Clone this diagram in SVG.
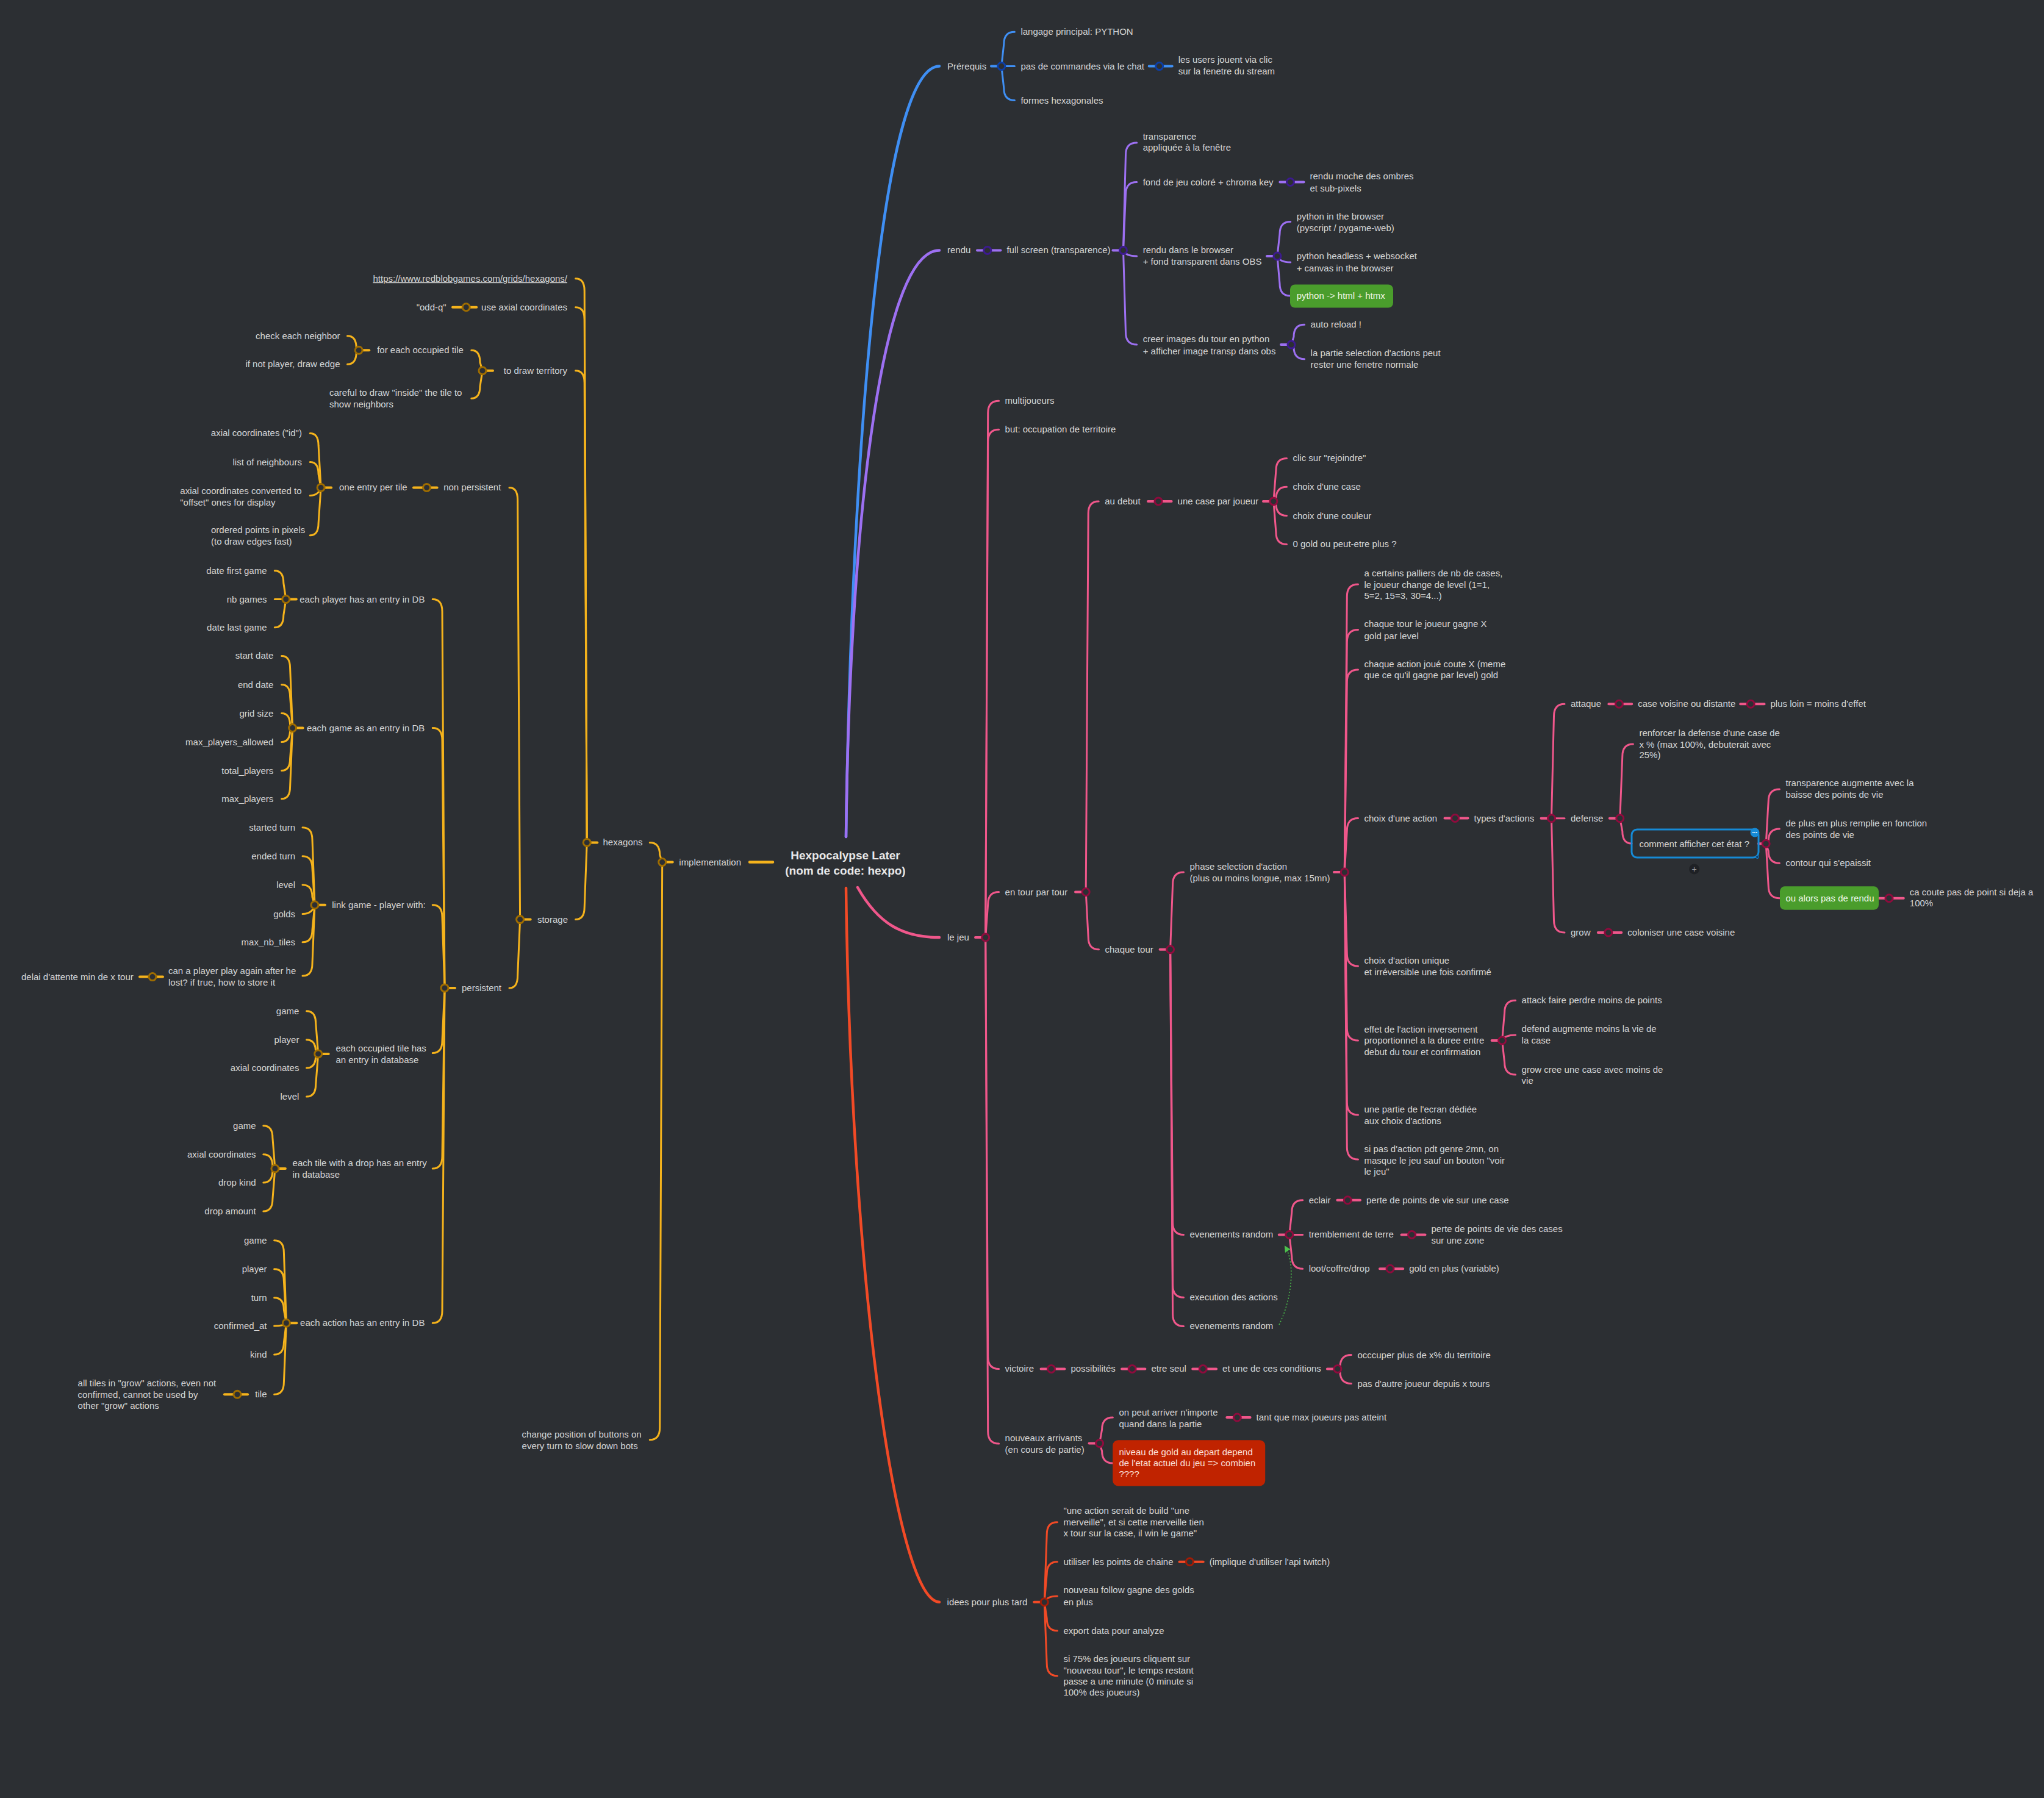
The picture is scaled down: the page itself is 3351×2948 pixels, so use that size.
<svg xmlns="http://www.w3.org/2000/svg" width="3351" height="2948" viewBox="0 0 3351 2948">
<defs>
<style>
.t{font-family:"Liberation Sans",Arial,sans-serif;font-size:15px;fill:#d6d6d6}
.e{text-anchor:end}
.ttl{font-family:"Liberation Sans",Arial,sans-serif;font-size:19px;font-weight:bold;fill:#e8e8e8;text-anchor:middle}
.c{fill:none;stroke-linecap:round;stroke-width:3}
.w1{stroke-width:4.5}
.st{stroke-width:4}
.b{stroke:#3f8ff4}.p{stroke:#9d70f2}.k{stroke:#f0578b}.y{stroke:#f5b31c}.r{stroke:#f24a26}
.d{fill:#2c2f33;stroke-width:3}
.db{stroke:#0d3ea3}.dp{stroke:#3c1a8f}.dk{stroke:#8e0b3d}.dy{stroke:#9e6c00}.dr{stroke:#a11c06}
.gbox{fill:#4a9d2c}.gt{fill:#eef7e8}
.rbox{fill:#c02300}.rt{fill:#fbe0da}
</style>
<marker id="ga" viewBox="0 0 10 10" refX="8" refY="5" markerWidth="7" markerHeight="7" orient="auto-start-reverse">
<path d="M0,0 L10,5 L0,10 z" fill="#4cc24c"/>
</marker>
</defs>
<rect x="0" y="0" width="3351" height="2948" fill="#2c2f33"/>

<g id="connectors">
<!-- blue -->
<path class="c b w1" d="M1387,1372 C1395,800 1440,108.6 1540,108.6"/>
<path class="c b st" d="M1625,108.6 L1641.8,108.6"/>
<path class="c b" d="M1641.8,108.6 L1645.8,72.2 Q1645.8,52.2 1663.4,52.2"/>
<path class="c b" d="M1641.8,108.6 L1663.4,108.6"/>
<path class="c b" d="M1641.8,108.6 L1645.8,144.6 Q1645.8,164.6 1663.4,164.6"/>
<path class="c b st" d="M1883.7,108.6 L1921.7,108.6"/>
<circle class="d db" cx="1641.8" cy="108.6" r="6"/>
<circle class="d db" cx="1900.7" cy="108.6" r="6"/>

<!-- purple -->
<path class="c p w1" d="M1387,1372 C1392,900 1440,410.4 1540,410.4"/>
<path class="c p st" d="M1602,410.4 L1640.4,410.4"/>
<path class="c p st" d="M1824.5,410.4 L1841.5,410.4"/>
<path class="c p" d="M1841.5,410.4 L1845.5,254 Q1845.5,234 1863.7,234"/>
<path class="c p" d="M1841.5,410.4 L1845.5,318.5 Q1845.5,298.5 1863.7,298.5"/>
<path class="c p" d="M1841.5,410.4 Q1845.5,420 1863.7,420"/>
<path class="c p" d="M1841.5,410.4 L1845.5,545 Q1845.5,565 1863.7,565"/>
<path class="c p st" d="M2098.4,298.5 L2137.5,298.5"/>
<path class="c p st" d="M2077,420 L2094,420"/>
<path class="c p" d="M2094,420 L2098,383.6 Q2098,363.6 2115.7,363.6"/>
<path class="c p" d="M2094,420 Q2098,430 2115.7,430"/>
<path class="c p" d="M2094,420 L2098,465 Q2098,485 2115,485"/>
<path class="c p st" d="M2100,565.1 L2117,565.1"/>
<path class="c p" d="M2117,565.1 L2121,552.3 Q2121,532.3 2138.6,532.3"/>
<path class="c p" d="M2117,565.1 L2121,568.7 Q2121,588.7 2138.6,588.7"/>
<circle class="d dp" cx="1618.8" cy="410.4" r="6"/>
<circle class="d dp" cx="1841.5" cy="410.4" r="6"/>
<circle class="d dp" cx="2115.4" cy="298.5" r="6"/>
<circle class="d dp" cx="2094" cy="420" r="6"/>
<circle class="d dp" cx="2117" cy="565.1" r="6"/>

<!-- pink -->
<path class="c k w1" d="M1406,1455 C1440,1515 1480,1537 1540,1537"/>
<path class="c k st" d="M1599,1537 L1615.7,1537"/>
<path class="c k" d="M1615.7,1537 L1619.7,677.3 Q1619.7,657.3 1637.6,657.3"/>
<path class="c k" d="M1615.7,1537 L1619.7,724.2 Q1619.7,704.2 1637.6,704.2"/>
<path class="c k" d="M1615.7,1537 L1619.7,1482.5 Q1619.7,1462.5 1637.6,1462.5"/>
<path class="c k" d="M1615.7,1537 L1619.7,2224.4 Q1619.7,2244.4 1637.6,2244.4"/>
<path class="c k" d="M1615.7,1537 L1619.7,2347 Q1619.7,2367 1637.6,2367"/>
<path class="c k st" d="M1763,1462.5 L1780.2,1462.5"/>
<path class="c k" d="M1780.2,1462.5 L1784.2,841.9 Q1784.2,821.9 1801.2,821.9"/>
<path class="c k" d="M1780.2,1462.5 L1784.2,1536.7 Q1784.2,1556.7 1801.5,1556.7"/>
<path class="c k st" d="M1882,821.9 L1920.6,821.9"/>
<path class="c k st" d="M2071,821.9 L2087.9,821.9"/>
<path class="c k" d="M2087.9,821.9 L2091.9,771.4 Q2091.9,751.4 2109.5,751.4"/>
<path class="c k" d="M2087.9,821.9 L2091.9,818.3 Q2091.9,798.3 2109.5,798.3"/>
<path class="c k" d="M2087.9,821.9 L2091.9,825.5 Q2091.9,845.5 2109.5,845.5"/>
<path class="c k" d="M2087.9,821.9 L2091.9,872.4 Q2091.9,892.4 2109.5,892.4"/>
<path class="c k st" d="M1901.6,1556.7 L1918.6,1556.7"/>
<path class="c k" d="M1918.6,1556.7 L1922.6,1450 Q1922.6,1430 1940.5,1430"/>
<path class="c k" d="M1918.6,1556.7 L1922.6,2004.4 Q1922.6,2024.4 1940.5,2024.4"/>
<path class="c k" d="M1918.6,1556.7 L1922.6,2107.3 Q1922.6,2127.3 1940.5,2127.3"/>
<path class="c k" d="M1918.6,1556.7 L1922.6,2154.4 Q1922.6,2174.4 1940.5,2174.4"/>
<path class="c k st" d="M2187,1430 L2204.3,1430"/>
<path class="c k" d="M2204.3,1430 L2208.3,977.9 Q2208.3,957.9 2226.5,957.9"/>
<path class="c k" d="M2204.3,1430 L2208.3,1052.5 Q2208.3,1032.5 2226.5,1032.5"/>
<path class="c k" d="M2204.3,1430 L2208.3,1118 Q2208.3,1098 2226.5,1098"/>
<path class="c k" d="M2204.3,1430 L2208.3,1361.5 Q2208.3,1341.5 2226.5,1341.5"/>
<path class="c k" d="M2204.3,1430 L2208.3,1564 Q2208.3,1584 2226.5,1584"/>
<path class="c k" d="M2204.3,1430 L2208.3,1686 Q2208.3,1706 2226.5,1706"/>
<path class="c k" d="M2204.3,1430 L2208.3,1808 Q2208.3,1828 2226.5,1828"/>
<path class="c k" d="M2204.3,1430 L2208.3,1881 Q2208.3,1901 2226.5,1901"/>
<path class="c k st" d="M2368.5,1341.5 L2406.5,1341.5"/>
<path class="c k st" d="M2526.5,1341.7 L2543.5,1341.7"/>
<path class="c k" d="M2543.5,1341.7 L2547.5,1174.3 Q2547.5,1154.3 2565,1154.3"/>
<path class="c k" d="M2543.5,1341.7 L2565,1341.7"/>
<path class="c k" d="M2543.5,1341.7 L2547.5,1509 Q2547.5,1529 2565,1529"/>
<path class="c k st" d="M2637.4,1154.3 L2675.2,1154.3"/>
<path class="c k st" d="M2853.2,1154.3 L2892.5,1154.3"/>
<path class="c k st" d="M2638.8,1341.7 L2655.8,1341.7"/>
<path class="c k" d="M2655.8,1341.7 L2659.8,1240 Q2659.8,1220 2677.4,1220"/>
<path class="c k" d="M2655.8,1341.7 L2659.8,1363 Q2659.8,1383 2675,1383"/>
<path class="c k st" d="M2883,1383.3 L2895.2,1383.3"/>
<path class="c k" d="M2895.2,1383.3 L2899.2,1314 Q2899.2,1294 2917.4,1294"/>
<path class="c k" d="M2895.2,1383.3 L2899.2,1379 Q2899.2,1359 2917.4,1359"/>
<path class="c k" d="M2895.2,1383.3 L2899.2,1395.3 Q2899.2,1415.3 2917.4,1415.3"/>
<path class="c k" d="M2895.2,1383.3 L2899.2,1452.7 Q2899.2,1472.7 2918,1472.7"/>
<path class="c k st" d="M3080,1472.7 L3120.8,1472.7"/>
<path class="c k st" d="M2619.8,1529 L2658.3,1529"/>
<path class="c k st" d="M2445.6,1706 L2462.6,1706"/>
<path class="c k" d="M2462.6,1706 L2466.6,1660.3 Q2466.6,1640.3 2484.6,1640.3"/>
<path class="c k" d="M2462.6,1706 Q2466.6,1697 2484.6,1697"/>
<path class="c k" d="M2462.6,1706 L2466.6,1742 Q2466.6,1762 2484.6,1762"/>
<path class="c k st" d="M2096.8,2024.4 L2113.8,2024.4"/>
<path class="c k" d="M2113.8,2024.4 L2117.8,1987.7 Q2117.8,1967.7 2135.7,1967.7"/>
<path class="c k" d="M2113.8,2024.4 L2135.7,2024.4"/>
<path class="c k" d="M2113.8,2024.4 L2117.8,2060.3 Q2117.8,2080.3 2135.7,2080.3"/>
<path class="c k st" d="M2192.4,1967.7 L2230,1967.7"/>
<path class="c k st" d="M2297.6,2024.4 L2336.5,2024.4"/>
<path class="c k st" d="M2262,2080.3 L2300.2,2080.3"/>
<path class="c k st" d="M1706.5,2244.4 L1745.4,2244.4"/>
<path class="c k st" d="M1839.1,2244.4 L1877.4,2244.4"/>
<path class="c k st" d="M1955.2,2244.4 L1994.1,2244.4"/>
<path class="c k st" d="M2175.9,2244.4 L2192.9,2244.4"/>
<path class="c k" d="M2192.9,2244.4 L2196.9,2241.5 Q2196.9,2221.5 2215.4,2221.5"/>
<path class="c k" d="M2192.9,2244.4 L2196.9,2248.5 Q2196.9,2268.5 2215.4,2268.5"/>
<path class="c k st" d="M1785.6,2366.5 L1802.6,2366.5"/>
<path class="c k" d="M1802.6,2366.5 L1806.6,2344 Q1806.6,2324 1824.4,2324"/>
<path class="c k" d="M1802.6,2366.5 L1806.6,2379 Q1806.6,2399 1824.2,2399"/>
<path class="c k st" d="M2011.3,2324 L2049.6,2324"/>
<path d="M2097,2172 C2118,2130 2124,2072 2107,2044" fill="none" stroke="#4cc24c" stroke-width="1.5" stroke-dasharray="2,3" marker-end="url(#ga)"/>
<circle class="d dk" cx="1615.7" cy="1537" r="6"/>
<circle class="d dk" cx="1780.2" cy="1462.5" r="6"/>
<circle class="d dk" cx="1899" cy="821.9" r="6"/>
<circle class="d dk" cx="2087.9" cy="821.9" r="6"/>
<circle class="d dk" cx="1918.6" cy="1556.7" r="6"/>
<circle class="d dk" cx="2204.3" cy="1430" r="6"/>
<circle class="d dk" cx="2385.5" cy="1341.5" r="6"/>
<circle class="d dk" cx="2543.5" cy="1341.7" r="6"/>
<circle class="d dk" cx="2654.4" cy="1154.3" r="6"/>
<circle class="d dk" cx="2870.2" cy="1154.3" r="6"/>
<circle class="d dk" cx="2655.8" cy="1341.7" r="6"/>
<circle class="d dk" cx="2895.2" cy="1383.3" r="6"/>
<circle class="d dk" cx="3097" cy="1472.7" r="6"/>
<circle class="d dk" cx="2636.8" cy="1529" r="6"/>
<circle class="d dk" cx="2462.6" cy="1706" r="6"/>
<circle class="d dk" cx="2113.8" cy="2024.4" r="6"/>
<circle class="d dk" cx="2209.4" cy="1967.7" r="6"/>
<circle class="d dk" cx="2314.6" cy="2024.4" r="6"/>
<circle class="d dk" cx="2279" cy="2080.3" r="6"/>
<circle class="d dk" cx="1723.5" cy="2244.4" r="6"/>
<circle class="d dk" cx="1856.1" cy="2244.4" r="6"/>
<circle class="d dk" cx="1972.2" cy="2244.4" r="6"/>
<circle class="d dk" cx="2192.9" cy="2244.4" r="6"/>
<circle class="d dk" cx="1802.6" cy="2366.5" r="6"/>
<circle class="d dk" cx="2028.3" cy="2324" r="6"/>

<!-- red -->
<path class="c r w1" d="M1387,1456 C1395,2100 1470,2626.7 1540,2626.7"/>
<path class="c r st" d="M1695.2,2626.7 L1712.2,2626.7"/>
<path class="c r" d="M1712.2,2626.7 L1716.2,2515.7 Q1716.2,2495.7 1733.4,2495.7"/>
<path class="c r" d="M1712.2,2626.7 L1716.2,2580.7 Q1716.2,2560.7 1733.4,2560.7"/>
<path class="c r" d="M1712.2,2626.7 Q1716.2,2617 1733.4,2617"/>
<path class="c r" d="M1712.2,2626.7 L1716.2,2653.7 Q1716.2,2673.7 1733.4,2673.7"/>
<path class="c r" d="M1712.2,2626.7 L1716.2,2727.7 Q1716.2,2747.7 1733.4,2747.7"/>
<path class="c r st" d="M1933.5,2560.7 L1972.7,2560.7"/>
<circle class="d dr" cx="1712.2" cy="2626.7" r="6"/>
<circle class="d dr" cx="1950.5" cy="2560.7" r="6"/>

<!-- yellow -->
<path class="c y w1" d="M1229,1413.6 L1267,1413.6"/>
<path class="c y st" d="M1085.7,1413.6 L1102.7,1413.6"/>
<path class="c y" d="M1085.7,1413.6 L1081.7,1401.4 Q1081.7,1381.4 1065.3,1381.4"/>
<path class="c y" d="M1085.7,1413.6 L1081.7,2340.7 Q1081.7,2360.7 1065.3,2360.7"/>
<path class="c y st" d="M962.2,1381.4 L979.2,1381.4"/>
<path class="c y" d="M962.2,1381.4 L958.2,476.7 Q958.2,456.7 943.6,456.7"/>
<path class="c y" d="M962.2,1381.4 L958.2,523.7 Q958.2,503.7 943.6,503.7"/>
<path class="c y" d="M962.2,1381.4 L958.2,627.7 Q958.2,607.7 943.6,607.7"/>
<path class="c y" d="M962.2,1381.4 L958.2,1487.6 Q958.2,1507.6 943.6,1507.6"/>
<path class="c y st" d="M742,503.7 L781.2,503.7"/>
<path class="c y st" d="M791,607.7 L808,607.7"/>
<path class="c y" d="M791,607.7 L787,594.3 Q787,574.3 772.8,574.3"/>
<path class="c y" d="M791,607.7 L787,633.3 Q787,653.3 772.8,653.3"/>
<path class="c y st" d="M588.2,574.3 L605.2,574.3"/>
<path class="c y" d="M588.2,574.3 L584.2,570.7 Q584.2,550.7 569.5,550.7"/>
<path class="c y" d="M588.2,574.3 L584.2,577.3 Q584.2,597.3 569.5,597.3"/>
<path class="c y st" d="M852.6,1507.6 L869.6,1507.6"/>
<path class="c y" d="M852.6,1507.6 L848.6,819.4 Q848.6,799.4 835,799.4"/>
<path class="c y" d="M852.6,1507.6 L848.6,1599.9 Q848.6,1619.9 835,1619.9"/>
<path class="c y st" d="M678,799.4 L716.6,799.4"/>
<path class="c y st" d="M526.1,799.4 L543.1,799.4"/>
<path class="c y" d="M526.1,799.4 L522.1,730.4 Q522.1,710.4 508.3,710.4"/>
<path class="c y" d="M526.1,799.4 L522.1,777.5 Q522.1,757.5 508.3,757.5"/>
<path class="c y" d="M526.1,799.4 Q522.1,812.5 508.3,812.5"/>
<path class="c y" d="M526.1,799.4 L522.1,857.7 Q522.1,877.7 508.3,877.7"/>
<path class="c y st" d="M729,1619.9 L746,1619.9"/>
<path class="c y" d="M729,1619.9 L725,1002.5 Q725,982.5 709.2,982.5"/>
<path class="c y" d="M729,1619.9 L725,1213.6 Q725,1193.6 709.2,1193.6"/>
<path class="c y" d="M729,1619.9 L725,1503.8 Q725,1483.8 709.2,1483.8"/>
<path class="c y" d="M729,1619.9 L725,1706.5 Q725,1726.5 709.2,1726.5"/>
<path class="c y" d="M729,1619.9 L725,1896 Q725,1916 709.2,1916"/>
<path class="c y" d="M729,1619.9 L725,2149.2 Q725,2169.2 709.2,2169.2"/>
<path class="c y st" d="M468.8,982.5 L485.8,982.5"/>
<path class="c y" d="M468.8,982.5 L464.8,955.8 Q464.8,935.8 450.3,935.8"/>
<path class="c y" d="M468.8,982.5 L450.3,982.5"/>
<path class="c y" d="M468.8,982.5 L464.8,1008.8 Q464.8,1028.8 450.3,1028.8"/>
<path class="c y st" d="M479.6,1193.6 L496.6,1193.6"/>
<path class="c y" d="M479.6,1193.6 L475.6,1095.4 Q475.6,1075.4 461.7,1075.4"/>
<path class="c y" d="M479.6,1193.6 L475.6,1142.5 Q475.6,1122.5 461.7,1122.5"/>
<path class="c y" d="M479.6,1193.6 L475.6,1189.5 Q475.6,1169.5 461.7,1169.5"/>
<path class="c y" d="M479.6,1193.6 L475.6,1196.6 Q475.6,1216.6 461.7,1216.6"/>
<path class="c y" d="M479.6,1193.6 L475.6,1243.6 Q475.6,1263.6 461.7,1263.6"/>
<path class="c y" d="M479.6,1193.6 L475.6,1289.8 Q475.6,1309.8 461.7,1309.8"/>
<path class="c y st" d="M516,1483.8 L533,1483.8"/>
<path class="c y" d="M516,1483.8 L512,1376.8 Q512,1356.8 496,1356.8"/>
<path class="c y" d="M516,1483.8 L512,1423.8 Q512,1403.8 496,1403.8"/>
<path class="c y" d="M516,1483.8 L512,1470.8 Q512,1450.8 496,1450.8"/>
<path class="c y" d="M516,1483.8 Q512,1498.5 496,1498.5"/>
<path class="c y" d="M516,1483.8 L512,1524.8 Q512,1544.8 496,1544.8"/>
<path class="c y" d="M516,1483.8 L512,1580 Q512,1600 496,1600"/>
<path class="c y st" d="M229,1601.6 L267,1601.6"/>
<path class="c y st" d="M521.7,1727.9 L538.7,1727.9"/>
<path class="c y" d="M521.7,1727.9 L517.7,1677.8 Q517.7,1657.8 502.6,1657.8"/>
<path class="c y" d="M521.7,1727.9 L517.7,1724.8 Q517.7,1704.8 502.6,1704.8"/>
<path class="c y" d="M521.7,1727.9 L517.7,1731.1 Q517.7,1751.1 502.6,1751.1"/>
<path class="c y" d="M521.7,1727.9 L517.7,1778.1 Q517.7,1798.1 502.6,1798.1"/>
<path class="c y st" d="M450.9,1916 L467.9,1916"/>
<path class="c y" d="M450.9,1916 L446.9,1865.8 Q446.9,1845.8 431.8,1845.8"/>
<path class="c y" d="M450.9,1916 L446.9,1912.8 Q446.9,1892.8 431.8,1892.8"/>
<path class="c y" d="M450.9,1916 L446.9,1919.1 Q446.9,1939.1 431.8,1939.1"/>
<path class="c y" d="M450.9,1916 L446.9,1966.1 Q446.9,1986.1 431.8,1986.1"/>
<path class="c y st" d="M469.4,2169.2 L486.4,2169.2"/>
<path class="c y" d="M469.4,2169.2 L465.4,2053.8 Q465.4,2033.8 449.6,2033.8"/>
<path class="c y" d="M469.4,2169.2 L465.4,2100.8 Q465.4,2080.8 449.6,2080.8"/>
<path class="c y" d="M469.4,2169.2 L465.4,2147.8 Q465.4,2127.8 449.6,2127.8"/>
<path class="c y" d="M469.4,2169.2 Q465.4,2174.1 449.6,2174.1"/>
<path class="c y" d="M469.4,2169.2 L465.4,2201.1 Q465.4,2221.1 449.6,2221.1"/>
<path class="c y" d="M469.4,2169.2 L465.4,2266.3 Q465.4,2286.3 449.6,2286.3"/>
<path class="c y st" d="M368,2286.3 L406,2286.3"/>
<circle class="d dy" cx="1085.7" cy="1413.6" r="6"/>
<circle class="d dy" cx="962.2" cy="1381.4" r="6"/>
<circle class="d dy" cx="764.2" cy="503.7" r="6"/>
<circle class="d dy" cx="791" cy="607.7" r="6"/>
<circle class="d dy" cx="588.2" cy="574.3" r="6"/>
<circle class="d dy" cx="852.6" cy="1507.6" r="6"/>
<circle class="d dy" cx="699.6" cy="799.4" r="6"/>
<circle class="d dy" cx="526.1" cy="799.4" r="6"/>
<circle class="d dy" cx="729" cy="1619.9" r="6"/>
<circle class="d dy" cx="468.8" cy="982.5" r="6"/>
<circle class="d dy" cx="479.6" cy="1193.6" r="6"/>
<circle class="d dy" cx="516" cy="1483.8" r="6"/>
<circle class="d dy" cx="250" cy="1601.6" r="6"/>
<circle class="d dy" cx="521.7" cy="1727.9" r="6"/>
<circle class="d dy" cx="450.9" cy="1916" r="6"/>
<circle class="d dy" cx="469.4" cy="2169.2" r="6"/>
<circle class="d dy" cx="389" cy="2286.3" r="6"/>
</g>

<g id="n_root"><text class="ttl" x="1386" y="1408.5">Hexpocalypse Later</text><text class="ttl" x="1386" y="1433.5">(nom de code: hexpo)</text></g>

<g id="n_prerequis"><text class="t" x="1553" y="113.6">Prérequis</text></g>
<g id="n_langage"><text class="t" x="1673.4" y="57.2">langage principal: PYTHON</text></g>
<g id="n_commandes"><text class="t" x="1673.4" y="113.6">pas de commandes via le chat</text></g>
<g id="n_users"><text class="t"><tspan x="1931.7" y="103.3">les users jouent via clic</tspan><tspan x="1931.7" y="122.3">sur la fenetre du stream</tspan></text></g>
<g id="n_formes"><text class="t" x="1673.4" y="169.6">formes hexagonales</text></g>

<g id="n_rendu"><text class="t" x="1553" y="415.4">rendu</text></g>
<g id="n_fullscreen"><text class="t" x="1650.4" y="415.4">full screen (transparence)</text></g>
<g id="n_transp"><text class="t"><tspan x="1873.7" y="228.5">transparence</tspan><tspan x="1873.7" y="247.1">appliquée à la fenêtre</tspan></text></g>
<g id="n_fond"><text class="t" x="1873.7" y="303.5">fond de jeu coloré + chroma key</text></g>
<g id="n_moche"><text class="t"><tspan x="2147.5" y="294.4">rendu moche des ombres</tspan><tspan x="2147.5" y="313.5">et sub-pixels</tspan></text></g>
<g id="n_browser"><text class="t"><tspan x="1873.7" y="415.4">rendu dans le browser</tspan><tspan x="1873.7" y="434.1">+ fond transparent dans OBS</tspan></text></g>
<g id="n_pyb"><text class="t"><tspan x="2125.7" y="359.5">python in the browser</tspan><tspan x="2125.7" y="378.5">(pyscript / pygame-web)</tspan></text></g>
<g id="n_headless"><text class="t"><tspan x="2125.7" y="425.4">python headless + websocket</tspan><tspan x="2125.7" y="444.5">+ canvas in the browser</tspan></text></g>
<g id="n_htmx"><rect class="gbox" x="2115" y="466.4" width="169" height="38.2" rx="8"/><text class="t gt" x="2125.7" y="490">python -&gt; html + htmx</text></g>
<g id="n_images"><text class="t"><tspan x="1873.7" y="561.4">creer images du tour en python</tspan><tspan x="1873.7" y="580.5">+ afficher image transp dans obs</tspan></text></g>
<g id="n_reload"><text class="t" x="2148.6" y="537.3">auto reload !</text></g>
<g id="n_partie"><text class="t"><tspan x="2148.6" y="584.2">la partie selection d'actions peut</tspan><tspan x="2148.6" y="603.3">rester une fenetre normale</tspan></text></g>

<g id="n_lejeu"><text class="t" x="1553" y="1542">le jeu</text></g>
<g id="n_multi"><text class="t" x="1647.6" y="662.3">multijoueurs</text></g>
<g id="n_but"><text class="t" x="1647.6" y="709.2">but: occupation de territoire</text></g>
<g id="n_entour"><text class="t" x="1647.6" y="1467.5">en tour par tour</text></g>
<g id="n_audebut"><text class="t" x="1811.2" y="826.9">au debut</text></g>
<g id="n_unecase"><text class="t" x="1930.6" y="826.9">une case par joueur</text></g>
<g id="n_clic"><text class="t" x="2119.5" y="756.4">clic sur "rejoindre"</text></g>
<g id="n_choixcase"><text class="t" x="2119.5" y="803.3">choix d'une case</text></g>
<g id="n_couleur"><text class="t" x="2119.5" y="850.5">choix d'une couleur</text></g>
<g id="n_gold0"><text class="t" x="2119.5" y="897.4">0 gold ou peut-etre plus ?</text></g>
<g id="n_chaquetour"><text class="t" x="1811.5" y="1561.7">chaque tour</text></g>
<g id="n_phase"><text class="t"><tspan x="1950.5" y="1425.5">phase selection d'action</tspan><tspan x="1950.5" y="1444.7">(plus ou moins longue, max 15mn)</tspan></text></g>
<g id="n_palliers"><text class="t"><tspan x="2236.5" y="944.6">a certains palliers de nb de cases,</tspan><tspan x="2236.5" y="963.7">le joueur change de level (1=1,</tspan><tspan x="2236.5" y="981.5">5=2, 15=3, 30=4...)</tspan></text></g>
<g id="n_gagne"><text class="t"><tspan x="2236.5" y="1028.4">chaque tour le joueur gagne X</tspan><tspan x="2236.5" y="1047.5">gold par level</tspan></text></g>
<g id="n_coute"><text class="t"><tspan x="2236.5" y="1093.5">chaque action joué coute X (meme</tspan><tspan x="2236.5" y="1112.1">que ce qu'il gagne par level) gold</tspan></text></g>
<g id="n_choixaction"><text class="t" x="2236.5" y="1346.5">choix d'une action</text></g>
<g id="n_types"><text class="t" x="2416.5" y="1346.7">types d'actions</text></g>
<g id="n_attaque"><text class="t" x="2575" y="1159.3">attaque</text></g>
<g id="n_voisine"><text class="t" x="2685.2" y="1159.3">case voisine ou distante</text></g>
<g id="n_loin"><text class="t" x="2902.5" y="1159.3">plus loin = moins d'effet</text></g>
<g id="n_defense"><text class="t" x="2575" y="1346.7">defense</text></g>
<g id="n_renforcer"><text class="t"><tspan x="2687.4" y="1206.7">renforcer la defense d'une case de</tspan><tspan x="2687.4" y="1225.7">x % (max 100%, debuterait avec</tspan><tspan x="2687.4" y="1243.3">25%)</tspan></text></g>
<g id="n_comment"><rect x="2675" y="1360" width="208" height="46" rx="9" fill="none" stroke="#168ad6" stroke-width="3"/><text class="t" x="2687.4" y="1388.7">comment afficher cet état ?</text><circle cx="2877" cy="1365" r="7.5" fill="#168ad6"/><circle cx="2874" cy="1365" r="1" fill="#ffffff"/><circle cx="2877" cy="1365" r="1" fill="#ffffff"/><circle cx="2880" cy="1365" r="1" fill="#ffffff"/><circle cx="2881" cy="1405" r="2.5" fill="#0d3e6e" stroke="#168ad6" stroke-width="1"/><circle cx="2777.7" cy="1425" r="8.5" fill="#1f2125"/><text x="2777.7" y="1430" text-anchor="middle" style="font-family:'Liberation Sans',Arial,sans-serif;font-size:14px;fill:#a0a0a0">+</text></g>
<g id="n_transpaug"><text class="t"><tspan x="2927.4" y="1289.3">transparence augmente avec la</tspan><tspan x="2927.4" y="1308.3">baisse des points de vie</tspan></text></g>
<g id="n_remplie"><text class="t"><tspan x="2927.4" y="1355.3">de plus en plus remplie en fonction</tspan><tspan x="2927.4" y="1374.3">des points de vie</tspan></text></g>
<g id="n_contour"><text class="t" x="2927.4" y="1420.3">contour qui s'epaissit</text></g>
<g id="n_pasrendu"><rect class="gbox" x="2918" y="1453.3" width="162" height="38.4" rx="8"/><text class="t gt" x="2927.4" y="1477.7">ou alors pas de rendu</text></g>
<g id="n_coutepas"><text class="t"><tspan x="3130.8" y="1467.7">ca coute pas de point si deja a</tspan><tspan x="3130.8" y="1486">100%</tspan></text></g>
<g id="n_grow"><text class="t" x="2575" y="1534">grow</text></g>
<g id="n_coloniser"><text class="t" x="2668.3" y="1534">coloniser une case voisine</text></g>
<g id="n_unique"><text class="t"><tspan x="2236.5" y="1580.4">choix d'action unique</tspan><tspan x="2236.5" y="1599.2">et irréversible une fois confirmé</tspan></text></g>
<g id="n_effet"><text class="t"><tspan x="2236.5" y="1692.5">effet de l'action inversement</tspan><tspan x="2236.5" y="1711.3">proportionnel a la duree entre</tspan><tspan x="2236.5" y="1729.6">debut du tour et confirmation</tspan></text></g>
<g id="n_attack"><text class="t" x="2494.6" y="1645.3">attack faire perdre moins de points</text></g>
<g id="n_defend"><text class="t"><tspan x="2494.6" y="1692.3">defend augmente moins la vie de</tspan><tspan x="2494.6" y="1711.3">la case</tspan></text></g>
<g id="n_growcree"><text class="t"><tspan x="2494.6" y="1758.7">grow cree une case avec moins de</tspan><tspan x="2494.6" y="1777.3">vie</tspan></text></g>
<g id="n_ecran"><text class="t"><tspan x="2236.5" y="1823.8">une partie de l'ecran dédiée</tspan><tspan x="2236.5" y="1842.5">aux choix d'actions</tspan></text></g>
<g id="n_sipas"><text class="t"><tspan x="2236.5" y="1889.4">si pas d'action pdt genre 2mn, on</tspan><tspan x="2236.5" y="1908.1">masque le jeu sauf un bouton "voir</tspan><tspan x="2236.5" y="1926">le jeu"</tspan></text></g>
<g id="n_even1"><text class="t" x="1950.5" y="2029.4">evenements random</text></g>
<g id="n_eclair"><text class="t" x="2145.7" y="1972.7">eclair</text></g>
<g id="n_perte1"><text class="t" x="2240" y="1972.7">perte de points de vie sur une case</text></g>
<g id="n_tremblement"><text class="t" x="2145.7" y="2029.4">tremblement de terre</text></g>
<g id="n_perte2"><text class="t"><tspan x="2346.5" y="2019.8">perte de points de vie des cases</tspan><tspan x="2346.5" y="2039">sur une zone</tspan></text></g>
<g id="n_loot"><text class="t" x="2145.7" y="2085.3">loot/coffre/drop</text></g>
<g id="n_goldplus"><text class="t" x="2310.2" y="2085.3">gold en plus (variable)</text></g>
<g id="n_execution"><text class="t" x="1950.5" y="2132.3">execution des actions</text></g>
<g id="n_even2"><text class="t" x="1950.5" y="2179.4">evenements random</text></g>
<g id="n_victoire"><text class="t" x="1647.6" y="2249.4">victoire</text></g>
<g id="n_possib"><text class="t" x="1755.4" y="2249.4">possibilités</text></g>
<g id="n_seul"><text class="t" x="1887.4" y="2249.4">etre seul</text></g>
<g id="n_conditions"><text class="t" x="2004.1" y="2249.4">et une de ces conditions</text></g>
<g id="n_occuper"><text class="t" x="2225.4" y="2226.5">occcuper plus de x% du territoire</text></g>
<g id="n_pasautre"><text class="t" x="2225.4" y="2273.5">pas d'autre joueur depuis x tours</text></g>
<g id="n_nouveaux"><text class="t"><tspan x="1647.6" y="2362.7">nouveaux arrivants</tspan><tspan x="1647.6" y="2381.5">(en cours de partie)</tspan></text></g>
<g id="n_onpeut"><text class="t"><tspan x="1834.4" y="2320.6">on peut arriver n'importe</tspan><tspan x="1834.4" y="2339.7">quand dans la partie</tspan></text></g>
<g id="n_tantque"><text class="t" x="2059.6" y="2329">tant que max joueurs pas atteint</text></g>
<g id="n_niveau"><rect class="rbox" x="1824.2" y="2361.2" width="250" height="75.3" rx="9"/><text class="t rt"><tspan x="1834.4" y="2385.7">niveau de gold au depart depend</tspan><tspan x="1834.4" y="2404.4">de l'etat actuel du jeu =&gt; combien</tspan><tspan x="1834.4" y="2421.6">????</tspan></text></g>

<g id="n_idees"><text class="t" x="1552.6" y="2631.7">idees pour plus tard</text></g>
<g id="n_merveille"><text class="t"><tspan x="1743.4" y="2482.3">"une action serait de build "une</tspan><tspan x="1743.4" y="2501.3">merveille", et si cette merveille tien</tspan><tspan x="1743.4" y="2519.3">x tour sur la case, il win le game"</tspan></text></g>
<g id="n_points"><text class="t" x="1743.4" y="2565.7">utiliser les points de chaine</text></g>
<g id="n_twitch"><text class="t" x="1982.7" y="2565.7">(implique d'utiliser l'api twitch)</text></g>
<g id="n_follow"><text class="t"><tspan x="1743.4" y="2612.3">nouveau follow gagne des golds</tspan><tspan x="1743.4" y="2631.7">en plus</tspan></text></g>
<g id="n_export"><text class="t" x="1743.4" y="2678.7">export data pour analyze</text></g>
<g id="n_si75"><text class="t"><tspan x="1743.4" y="2725.3">si 75% des joueurs cliquent sur</tspan><tspan x="1743.4" y="2744.3">"nouveau tour", le temps restant</tspan><tspan x="1743.4" y="2762.3">passe a une minute (0 minute si</tspan><tspan x="1743.4" y="2780.3">100% des joueurs)</tspan></text></g>

<g id="n_implementation"><text class="t" x="1113.3" y="1418.6">implementation</text></g>
<g id="n_hexagons"><text class="t e" x="1053.6" y="1386.4">hexagons</text></g>
<g id="n_url"><text class="t e" x="930" y="461.7" text-decoration="underline">https://www.redblobgames.com/grids/hexagons/</text></g>
<g id="n_axial"><text class="t e" x="930" y="508.7">use axial coordinates</text></g>
<g id="n_oddq"><text class="t e" x="731.7" y="508.7">"odd-q"</text></g>
<g id="n_territory"><text class="t e" x="930" y="612.7">to draw territory</text></g>
<g id="n_foreach"><text class="t e" x="759.9" y="579.3">for each occupied tile</text></g>
<g id="n_check"><text class="t e" x="557.5" y="555.7">check each neighbor</text></g>
<g id="n_ifnot"><text class="t e" x="557.5" y="602.3">if not player, draw edge</text></g>
<g id="n_careful"><text class="t"><tspan x="540" y="649.3">careful to draw "inside" the tile to</tspan><tspan x="540" y="668.3">show neighbors</tspan></text></g>
<g id="n_storage"><text class="t e" x="931" y="1512.6">storage</text></g>
<g id="n_nonpers"><text class="t e" x="821.4" y="804.4">non persistent</text></g>
<g id="n_oneentry"><text class="t e" x="667.7" y="804.4">one entry per tile</text></g>
<g id="n_axialid"><text class="t e" x="494.9" y="715.4">axial coordinates ("id")</text></g>
<g id="n_neighbours"><text class="t e" x="494.9" y="762.5">list of neighbours</text></g>
<g id="n_converted"><text class="t"><tspan x="295.3" y="809.6">axial coordinates converted to</tspan><tspan x="295.3" y="828.5">"offset" ones for display</tspan></text></g>
<g id="n_ordered"><text class="t"><tspan x="346" y="874.4">ordered points in pixels</tspan><tspan x="346" y="893.4">(to draw edges fast)</tspan></text></g>
<g id="n_persistent"><text class="t e" x="822" y="1624.9">persistent</text></g>
<g id="n_playerdb"><text class="t e" x="696.4" y="987.5">each player has an entry in DB</text></g>
<g id="n_datefirst"><text class="t e" x="437.5" y="940.8">date first game</text></g>
<g id="n_nbgames"><text class="t e" x="437.5" y="987.5">nb games</text></g>
<g id="n_datelast"><text class="t e" x="437.5" y="1033.8">date last game</text></g>
<g id="n_gamedb"><text class="t e" x="696.4" y="1198.6">each game as an entry in DB</text></g>
<g id="n_startdate"><text class="t e" x="448.3" y="1080.4">start date</text></g>
<g id="n_enddate"><text class="t e" x="448.3" y="1127.5">end date</text></g>
<g id="n_gridsize"><text class="t e" x="448.3" y="1174.5">grid size</text></g>
<g id="n_maxallowed"><text class="t e" x="448.3" y="1221.6">max_players_allowed</text></g>
<g id="n_totalplayers"><text class="t e" x="448.3" y="1268.6">total_players</text></g>
<g id="n_maxplayers"><text class="t e" x="448.3" y="1314.8">max_players</text></g>
<g id="n_link"><text class="t e" x="697.7" y="1488.8">link game - player with:</text></g>
<g id="n_startedturn"><text class="t e" x="484" y="1361.8">started turn</text></g>
<g id="n_endedturn"><text class="t e" x="484" y="1408.8">ended turn</text></g>
<g id="n_level1"><text class="t e" x="484" y="1455.8">level</text></g>
<g id="n_golds"><text class="t e" x="484" y="1503.5">golds</text></g>
<g id="n_maxnbtiles"><text class="t e" x="484" y="1549.8">max_nb_tiles</text></g>
<g id="n_canplay"><text class="t"><tspan x="276" y="1596.8">can a player play again after he</tspan><tspan x="276" y="1615.8">lost? if true, how to store it</tspan></text></g>
<g id="n_delai"><text class="t e" x="218.8" y="1606.6">delai d'attente min de x tour</text></g>
<g id="n_occupied"><text class="t"><tspan x="550.4" y="1723.8">each occupied tile has</tspan><tspan x="550.4" y="1742.7">an entry in database</tspan></text></g>
<g id="n_occ_game"><text class="t e" x="490.4" y="1662.8">game</text></g>
<g id="n_occ_player"><text class="t e" x="490.4" y="1709.8">player</text></g>
<g id="n_occ_axial"><text class="t e" x="490.4" y="1756.1">axial coordinates</text></g>
<g id="n_occ_level"><text class="t e" x="490.4" y="1803.1">level</text></g>
<g id="n_dropdb"><text class="t"><tspan x="479.6" y="1911.8">each tile with a drop has an entry</tspan><tspan x="479.6" y="1930.7">in database</tspan></text></g>
<g id="n_drop_game"><text class="t e" x="419.6" y="1850.8">game</text></g>
<g id="n_drop_axial"><text class="t e" x="419.6" y="1897.8">axial coordinates</text></g>
<g id="n_drop_kind"><text class="t e" x="419.6" y="1944.1">drop kind</text></g>
<g id="n_drop_amount"><text class="t e" x="419.6" y="1991.1">drop amount</text></g>
<g id="n_actiondb"><text class="t e" x="696.4" y="2174.2">each action has an entry in DB</text></g>
<g id="n_act_game"><text class="t e" x="437.5" y="2038.8">game</text></g>
<g id="n_act_player"><text class="t e" x="437.5" y="2085.8">player</text></g>
<g id="n_act_turn"><text class="t e" x="437.5" y="2132.8">turn</text></g>
<g id="n_act_confirmed"><text class="t e" x="437.5" y="2179.1">confirmed_at</text></g>
<g id="n_act_kind"><text class="t e" x="437.5" y="2226.1">kind</text></g>
<g id="n_act_tile"><text class="t e" x="437.5" y="2291.3">tile</text></g>
<g id="n_alltiles"><text class="t"><tspan x="127.6" y="2273.1">all tiles in "grow" actions, even not</tspan><tspan x="127.6" y="2292">confirmed, cannot be used by</tspan><tspan x="127.6" y="2310.3">other "grow" actions</tspan></text></g>
<g id="n_change"><text class="t"><tspan x="855.6" y="2357.3">change position of buttons on</tspan><tspan x="855.6" y="2376.2">every turn to slow down bots</tspan></text></g>
</svg>
